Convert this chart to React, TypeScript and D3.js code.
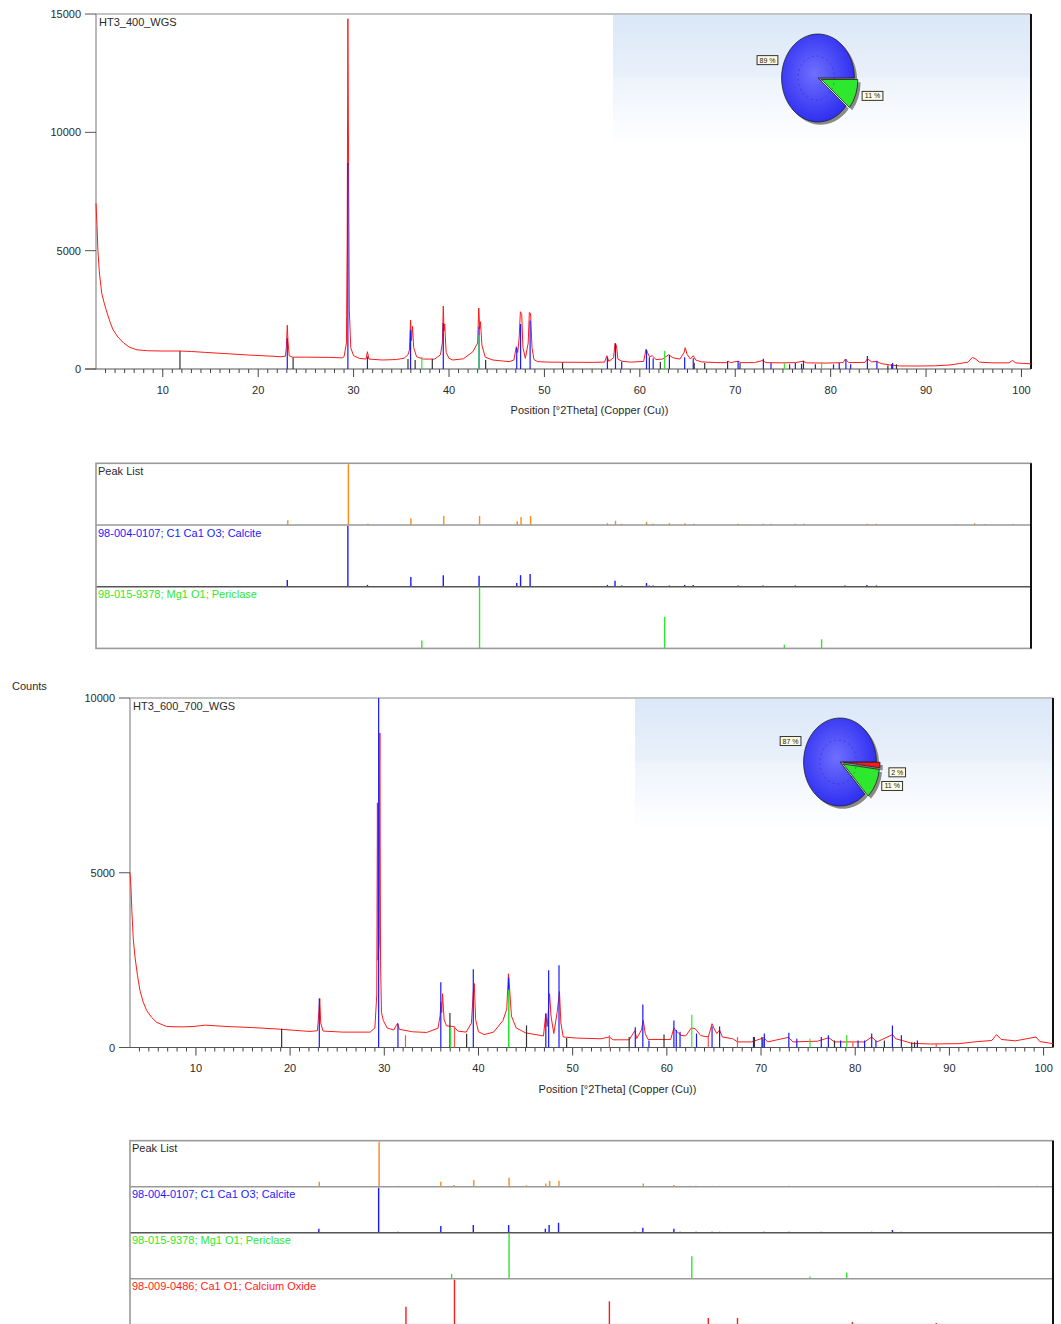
import React from 'react';
import * as d3 from 'd3';

type Pt = [number, number];

const X_DOMAIN: Pt = [3, 101];
const X_MAJOR = [10, 20, 30, 40, 50, 60, 70, 80, 90, 100];
const X_MINOR = d3.range(4, 101);
const X_TITLE = 'Position [°2Theta] (Copper (Cu))';

// ---------- HT3_400_WGS ----------
const titleA = 'HT3_400_WGS';
const yTicksA = [0, 5000, 10000, 15000];
const profileA: Pt[] = [
  [3.0, 7000], [3.1, 6100], [3.2, 5000], [3.35, 4100], [3.6, 3200], [3.85, 2800], [4.1, 2450], [4.5, 1950],
  [4.8, 1650], [5.3, 1350], [5.9, 1100], [6.5, 920], [7.3, 810], [8.5, 770], [10, 760], [11.8, 760],
  [13, 740], [14.5, 700], [17, 640], [19, 590], [21, 550], [22.3, 520], [22.85, 540], [22.95, 900],
  [23.05, 1850], [23.12, 1200], [23.25, 560], [23.6, 500], [25, 500], [27.5, 490], [28.8, 470], [29.0, 520],
  [29.25, 1100], [29.33, 5600], [29.4, 14800], [29.47, 9000], [29.55, 2500], [29.7, 900], [30.0, 560], [30.6, 450],
  [31.3, 420], [31.45, 730], [31.6, 420], [33, 380], [34.5, 400], [35.3, 460], [35.7, 600], [35.85, 800],
  [35.97, 2070], [36.07, 1200], [36.17, 1800], [36.3, 900], [36.6, 520], [37.3, 420], [38.5, 420], [39.1, 600],
  [39.3, 1100], [39.4, 2660], [39.48, 1600], [39.55, 1900], [39.7, 700], [40.0, 450], [40.4, 380], [41.5, 430],
  [42.5, 730], [43.0, 1100], [43.12, 2580], [43.22, 1700], [43.3, 2000], [43.45, 1000], [43.8, 500], [44.6, 380],
  [46.3, 310], [46.8, 380], [47.05, 940], [47.2, 700], [47.35, 1300], [47.48, 2420], [47.62, 2300], [47.75, 900],
  [48.0, 450], [48.3, 1100], [48.42, 2390], [48.55, 2350], [48.7, 900], [48.9, 400], [49.3, 310], [50.5, 290],
  [55, 280], [56.3, 290], [56.55, 560], [56.75, 320], [57.25, 480], [57.4, 1085], [57.55, 1000], [57.7, 420],
  [58.1, 330], [59, 290], [60.4, 320], [60.65, 840], [60.8, 700], [61.0, 520], [61.3, 560], [61.7, 400],
  [62.4, 420], [63.0, 600], [63.5, 470], [64.2, 420], [64.65, 700], [64.75, 900], [64.95, 620], [65.3, 420],
  [65.6, 560], [65.85, 380], [66.5, 300], [68, 270], [69.1, 270], [69.25, 330], [69.5, 270], [70.3, 330],
  [70.6, 270], [72, 270], [72.9, 360], [73.2, 270], [75, 260], [76.3, 270], [77.1, 330], [77.5, 260],
  [79.5, 250], [81.3, 270], [81.55, 420], [81.9, 270], [83.6, 280], [83.85, 430], [84.3, 300], [84.8, 320],
  [85.3, 230], [86.2, 170], [87.2, 130], [89, 125], [91, 135], [92.5, 170], [93.5, 230], [94.4, 290],
  [94.85, 490], [95.2, 420], [95.6, 290], [97, 260], [98.7, 260], [99.05, 360], [99.4, 260], [100, 240],
  [101, 220],
];
const calciteA: Pt[] = [
  [23.05, 1300], [29.4, 8700], [31.45, 520], [35.97, 1650], [39.4, 1940], [43.15, 1790], [47.1, 900], [47.5, 1900],
  [48.5, 2050], [56.6, 500], [57.45, 1085], [58.1, 310], [60.7, 800], [61.0, 500], [61.4, 450], [63.1, 600],
  [64.7, 500], [65.6, 450], [69.2, 340], [70.3, 340], [72.95, 430], [73.75, 250], [76.3, 250], [77.15, 350],
  [78.4, 200], [80.3, 200], [80.9, 250], [81.6, 420], [82.1, 200], [83.85, 550], [84.85, 350], [86.5, 250],
];
const periclaseA: Pt[] = [[37.15, 510], [43.15, 1430], [62.6, 775], [75.15, 240], [79.05, 300]];
const unknownA: Pt[] = [
  [11.8, 760], [23.66, 490], [35.7, 420], [36.45, 380], [38.25, 420], [43.84, 380], [51.9, 270], [62.15, 300],
  [65.7, 250], [66.8, 250], [70.5, 250], [75.7, 200], [76.95, 220], [86.0, 150], [86.4, 200], [86.9, 200],
];
const pieValuesA = [89, 11];
const pieLabelsA = ['89 %', '11 %'];
const refNamesA = ['Peak List', '98-004-0107; C1 Ca1 O3; Calcite', '98-015-9378; Mg1 O1; Periclase'];
const peakListA: Pt[] = [
  [23.1, 8], [29.45, 100], [31.5, 2], [36.0, 11], [39.45, 15], [43.2, 15], [47.15, 6], [47.55, 13], [48.55, 15],
  [56.6, 3], [57.45, 7], [58.1, 2], [60.7, 5], [61.4, 2], [63.1, 3], [64.75, 3], [65.65, 2], [70.3, 2],
  [72.95, 2], [73.75, 2], [76.3, 2], [77.2, 2], [83.85, 2], [84.8, 2], [93.1, 1.5], [95.1, 3], [96.2, 1.5], [99.1, 1.5],
];
const calciteRefA: Pt[] = [
  [23.05, 11], [29.4, 100], [31.45, 3], [36.0, 16], [39.4, 19], [43.15, 18], [47.1, 6], [47.5, 19], [48.5, 21],
  [56.6, 3], [57.4, 10], [58.1, 2], [60.7, 6], [61.0, 2], [61.4, 2], [63.1, 2], [64.7, 3], [65.6, 3],
  [69.2, 1], [70.3, 2], [72.9, 2], [76.3, 2], [77.2, 1], [81.5, 2], [83.8, 3], [84.8, 2], [86.5, 1],
];
const periclaseRefA: Pt[] = [[37.15, 13], [43.2, 100], [62.6, 52], [75.15, 6], [79.05, 15]];

// ---------- HT3_600_700_WGS ----------
const titleB = 'HT3_600_700_WGS';
const yTicksB = [0, 5000, 10000];
const profileB: Pt[] = [
  [3.0, 5000], [3.1, 4600], [3.2, 3900], [3.35, 3100], [3.53, 2590], [3.8, 2050], [4.06, 1630], [4.4, 1300],
  [4.77, 1060], [5.3, 860], [5.83, 720], [6.9, 600], [8.5, 590], [9.7, 600], [11, 640], [13.3, 600],
  [16, 570], [18.6, 530], [20.5, 490], [22.1, 460], [22.9, 480], [23.05, 1000], [23.15, 1400], [23.25, 700],
  [23.5, 470], [25.6, 440], [28.5, 440], [29.0, 560], [29.2, 1500], [29.27, 7000], [29.33, 2500], [29.45, 3000],
  [29.53, 9000], [29.6, 2500], [29.7, 1000], [29.9, 770], [30.3, 560], [31.0, 500], [31.4, 690], [31.6, 520],
  [33, 450], [34.5, 430],
  [35.7, 550], [35.92, 900], [36.02, 1300], [36.1, 1000], [36.18, 1540], [36.35, 800], [36.6, 620], [37.4, 600],
  [37.8, 470], [38.7, 440], [39.25, 700], [39.45, 1600], [39.55, 1830], [39.7, 800], [40.0, 450], [40.6, 370],
  [41.6, 440], [42.6, 770], [43.0, 1100], [43.18, 2110], [43.3, 1700], [43.5, 900], [44.0, 560], [45.0, 420],
  [46.9, 330], [47.15, 970], [47.3, 600], [47.55, 1540], [47.7, 900], [48.0, 400], [48.35, 1000], [48.6, 1600],
  [48.75, 700], [49.0, 300], [50.4, 270], [53, 250], [53.9, 300], [54.3, 220], [56.0, 220], [56.6, 480],
  [56.8, 260], [57.3, 500], [57.5, 770], [57.7, 400], [58.0, 230], [60.4, 230], [60.75, 560], [61.0, 470],
  [61.5, 350], [62.0, 330], [62.6, 560], [63.0, 540], [63.6, 340], [64.4, 300], [64.8, 680], [65.0, 550],
  [65.3, 400], [65.6, 500], [65.9, 300], [67.0, 250], [67.5, 160], [69.0, 160], [70.3, 280], [70.7, 160],
  [72.9, 290], [73.4, 160], [76.0, 180], [77.2, 280], [77.8, 160], [81.0, 160], [81.75, 300], [82.3, 160],
  [83.97, 370], [84.3, 250], [85.0, 200], [86.0, 120], [88.0, 100], [91.0, 110], [93.0, 170], [94.5, 200],
  [95.0, 370], [95.5, 230], [97.0, 190], [99.2, 300], [99.6, 170], [101, 110],
];
const calciteB: Pt[] = [
  [23.1, 1400], [29.4, 10000], [31.45, 690], [36.0, 1870], [39.45, 2240], [43.2, 2000], [47.15, 970], [47.45, 2210],
  [48.55, 2350], [56.65, 580], [57.45, 1230], [58.1, 200], [60.75, 770], [61.0, 500], [61.4, 450], [63.15, 400],
  [64.8, 600], [65.6, 600], [69.2, 300], [70.2, 250], [70.35, 400], [72.95, 420], [73.8, 250], [76.4, 300],
  [77.15, 350], [78.45, 200], [80.3, 200], [81.0, 200], [81.75, 400], [82.2, 200], [83.95, 630], [84.9, 350], [86.6, 200],
];
const periclaseB: Pt[] = [[37.05, 560], [43.2, 1650], [62.65, 940], [75.2, 250], [79.1, 360]];
const limeB: Pt[] = [[32.25, 350], [37.45, 600], [53.9, 350], [64.4, 300], [67.5, 300], [79.75, 150], [88.6, 100]];
const unknownB: Pt[] = [
  [19.1, 540], [36.97, 990], [38.74, 390], [45.1, 630], [49.36, 270], [56.0, 300], [59.7, 370], [69.3, 300],
  [70.1, 300], [77.8, 200], [83.1, 200], [86.0, 150], [86.3, 150],
];
const pieValuesB = [87, 2, 11];
const pieLabelsB = ['87 %', '2 %', '11 %'];
const refNamesB = [
  'Peak List', '98-004-0107; C1 Ca1 O3; Calcite', '98-015-9378; Mg1 O1; Periclase', '98-009-0486; Ca1 O1; Calcium Oxide',
];
const peakListB: Pt[] = [
  [23.1, 11], [29.45, 100], [31.5, 2], [36.0, 11], [37.4, 4], [39.5, 15], [43.25, 20], [45.1, 3], [47.15, 7],
  [47.55, 13], [48.55, 13], [57.5, 7], [60.75, 4], [62.45, 2], [63.1, 2], [64.85, 2], [65.6, 2], [72.96, 2],
  [95.2, 2], [99.3, 2],
];
const calciteRefB: Pt[] = [
  [23.05, 9], [29.4, 100], [31.45, 2], [36.0, 15], [39.45, 17], [43.2, 17], [47.1, 9], [47.5, 17], [48.5, 22],
  [56.6, 2], [57.45, 11], [60.75, 9], [61.4, 2], [63.1, 2], [64.8, 2], [65.6, 2], [69.2, 1], [70.3, 2],
  [72.95, 2], [76.4, 2], [77.1, 1], [81.75, 2], [83.95, 6], [84.9, 2], [86.6, 1],
];
const periclaseRefB: Pt[] = [[37.15, 11], [43.25, 100], [62.65, 50], [75.2, 5], [79.1, 14]];
const limeRefB: Pt[] = [[32.3, 40], [37.45, 100], [53.9, 52], [64.4, 15], [67.5, 15], [79.7, 6], [88.6, 4]];

const FONT = '"Liberation Sans", Arial, sans-serif';
const TXT = '#2a2a2a';
const C = { red: '#ff1a1a', blue: '#1a1aff', green: '#2ee82e', orange: '#ff8a1a', dark: '#333333', lime: '#ff5050' };

function Pie({ cx, cy, values, labels, colors, id }) {
  const R = 40, sx = 0.91, sy = 1.1;
  const total = d3.sum(values);
  const start = Math.PI / 2 + (2 * Math.PI * (total - values[0])) / total;
  const arcs = d3.pie<number>().sort(null).startAngle(start).endAngle(start + 2 * Math.PI)(values);
  const arc = d3.arc<d3.PieArcDatum<number>>().innerRadius(0).outerRadius(R);
  const off = (a: d3.PieArcDatum<number>, i: number) => {
    if (i === 0) return [0, 0];
    const m = (a.startAngle + a.endAngle) / 2;
    return [Math.sin(m) * 4, -Math.cos(m) * 4];
  };
  return (
    <g>
      <defs>
        <radialGradient id={`pb-${id}`} cx="0.45" cy="0.45" r="0.6">
          <stop offset="0" stopColor="#6f6fff" />
          <stop offset="1" stopColor="#2a2af0" />
        </radialGradient>
      </defs>
      <g transform={`translate(${cx},${cy}) scale(${sx},${sy})`}>
        {arcs.map((a, i) => {
          const [dx, dy] = off(a, i);
          return <path key={'s' + i} d={arc(a) || ''} transform={`translate(${dx + 3},${dy + 2.5})`} fill="#8a8a8a" />;
        })}
        {arcs.map((a, i) => {
          const [dx, dy] = off(a, i);
          return (
            <path key={'p' + i} d={arc(a) || ''} transform={`translate(${dx},${dy})`}
              fill={i === 0 ? `url(#pb-${id})` : colors[i]} stroke="#222" strokeWidth={0.8}
              vectorEffect="non-scaling-stroke" />
          );
        })}
        <ellipse cx={-2} cy={0} rx={R * 0.5} ry={R * 0.5} fill="none" stroke="#1a1aa0" strokeOpacity={0.4}
          strokeDasharray="2 3" vectorEffect="non-scaling-stroke" />
      </g>
      {arcs.map((a, i) => {
        const m = (a.startAngle + a.endAngle) / 2;
        const lx = cx + Math.sin(m) * R * 1.3 * sx + (i === 0 ? -6 : 10);
        const ly = cy - Math.cos(m) * R * 1.2 * sy + (i === 1 && arcs.length > 2 ? 7 : 0);
        const w = labels[i].length * 4.2 + 4;
        return (
          <g key={'l' + i}>
            <rect x={lx - w / 2} y={ly - 4.5} width={w} height={9} fill="#fffbe0" stroke="#333" strokeWidth={1} />
            <text x={lx} y={ly + 2.5} fontSize={7} textAnchor="middle" fontFamily={FONT} fill="#222">{labels[i]}</text>
          </g>
        );
      })}
    </g>
  );
}

function Plot({ left, right, top, bottom, yMax, yTicks, title, profile, layers, pie, id }) {
  const x = d3.scaleLinear().domain(X_DOMAIN).range([left, right]);
  const y = d3.scaleLinear().domain([0, yMax]).range([bottom, top]);
  const line = d3.line<Pt>().x(d => x(d[0])).y(d => y(d[1]));
  const boxX = right - 418;
  return (
    <g fontFamily={FONT}>
      <defs>
        <linearGradient id={`bg-${id}`} x1="0" y1="0" x2="0" y2="1">
          <stop offset="0" stopColor="#dbe8f8" />
          <stop offset="0.47" stopColor="#e9f0fa" />
          <stop offset="0.49" stopColor="#eef4fc" />
          <stop offset="1" stopColor="#ffffff" />
        </linearGradient>
      </defs>
      <rect x={boxX} y={top + 1} width={right - boxX} height={131} fill={`url(#bg-${id})`} />
      {/* frame */}
      <line x1={left} x2={right} y1={top} y2={top} stroke="#8a8a8a" strokeWidth={1.2} />
      <line x1={left} x2={left} y1={top} y2={bottom} stroke="#8a8a8a" strokeWidth={1.2} />
      <line x1={right} x2={right} y1={top} y2={bottom} stroke="#111" strokeWidth={2} />
      <line x1={left - 11} x2={right} y1={bottom} y2={bottom} stroke="#555" strokeWidth={1} />
      {yTicks.map(t => (
        <g key={t}>
          <line x1={left - 11} x2={left} y1={y(t)} y2={y(t)} stroke="#555" />
          <text x={left - 15} y={y(t) + 4} textAnchor="end" fontSize={11} fill={TXT}>{t}</text>
        </g>
      ))}
      {X_MINOR.map(t => (
        <line key={t} x1={x(t)} x2={x(t)} y1={bottom} y2={bottom + (t % 10 === 0 ? 8 : 4)} stroke="#444" />
      ))}
      {X_MAJOR.map(t => (
        <text key={t} x={x(t)} y={bottom + 24.5} textAnchor="middle" fontSize={11} fill={TXT}>{t}</text>
      ))}
      <text x={(left + right) / 2 + 26} y={bottom + 45} textAnchor="middle" fontSize={11} fill={TXT}>{X_TITLE}</text>
      <path d={line(profile) || ''} fill="none" stroke={C.red} strokeWidth={1} />
      {layers.map((l, li) => l.data.map((d, i) => (
        <line key={li + '-' + i} x1={x(d[0])} x2={x(d[0])} y1={y(0)} y2={y(d[1])} stroke={l.color} strokeWidth={1.2} />
      )))}
      <text x={left + 3} y={top + 12} fontSize={11} fill={TXT}>{title}</text>
      <Pie cx={right - 213} cy={top + 64} values={pie.values} labels={pie.labels} colors={pie.colors} id={id} />
    </g>
  );
}

function RefPanels({ left, right, top, h, names, colors, data }) {
  const x = d3.scaleLinear().domain(X_DOMAIN).range([left, right]);
  const n = data.length;
  return (
    <g fontFamily={FONT}>
      {data.map((rows, i) => {
        const t = top + i * h;
        const y = d3.scaleLinear().domain([0, 100]).range([t + h, t + 1]);
        return (
          <g key={i}>
            {rows.map((d, j) => (
              <line key={j} x1={x(d[0])} x2={x(d[0])} y1={y(0)} y2={y(d[1])} stroke={colors[i]} strokeWidth={1.4} />
            ))}
            <text x={left + 2} y={t + 11.5} fontSize={11} fill={i === 0 ? TXT : colors[i]}>{names[i]}</text>
            {i > 0 && <line x1={left} x2={right} y1={t} y2={t} stroke={i === 2 ? '#555' : '#999'} strokeWidth={1.6} />}
          </g>
        );
      })}
      <rect x={left} y={top} width={right - left} height={n * h} fill="none" stroke="#9a9a9a" strokeWidth={1.6} />
      <line x1={right} x2={right} y1={top} y2={top + n * h} stroke="#111" strokeWidth={2} />
    </g>
  );
}

export default function App() {
  return (
    <svg width={1061} height={1324} style={{ position: 'absolute', left: 0, top: 0, background: '#fff' }}>
      <rect width={1061} height={1324} fill="#fff" />
      <Plot left={96} right={1031} top={14} bottom={369} yMax={15000} yTicks={yTicksA} title={titleA}
        profile={profileA} id="a"
        layers={[{ data: unknownA, color: C.dark }, { data: calciteA, color: C.blue }, { data: periclaseA, color: C.green }]}
        pie={{ values: pieValuesA, labels: pieLabelsA, colors: [C.blue, C.green] }} />
      <RefPanels left={96} right={1031} top={463.3} h={61.7} names={refNamesA}
        colors={[C.orange, C.blue, C.green]} data={[peakListA, calciteRefA, periclaseRefA]} />
      <text x={12} y={690} fontSize={11} fontFamily={FONT} fill={TXT}>Counts</text>
      <Plot left={130} right={1053} top={698} bottom={1047.5} yMax={10000} yTicks={yTicksB} title={titleB}
        profile={profileB} id="b"
        layers={[{ data: unknownB, color: C.dark }, { data: limeB, color: C.lime }, { data: calciteB, color: C.blue },
          { data: periclaseB, color: C.green }]}
        pie={{ values: pieValuesB, labels: pieLabelsB, colors: [C.blue, C.red, C.green] }} />
      <RefPanels left={130} right={1053} top={1140.7} h={46} names={refNamesB}
        colors={[C.orange, C.blue, C.green, C.red]} data={[peakListB, calciteRefB, periclaseRefB, limeRefB]} />
    </svg>
  );
}
